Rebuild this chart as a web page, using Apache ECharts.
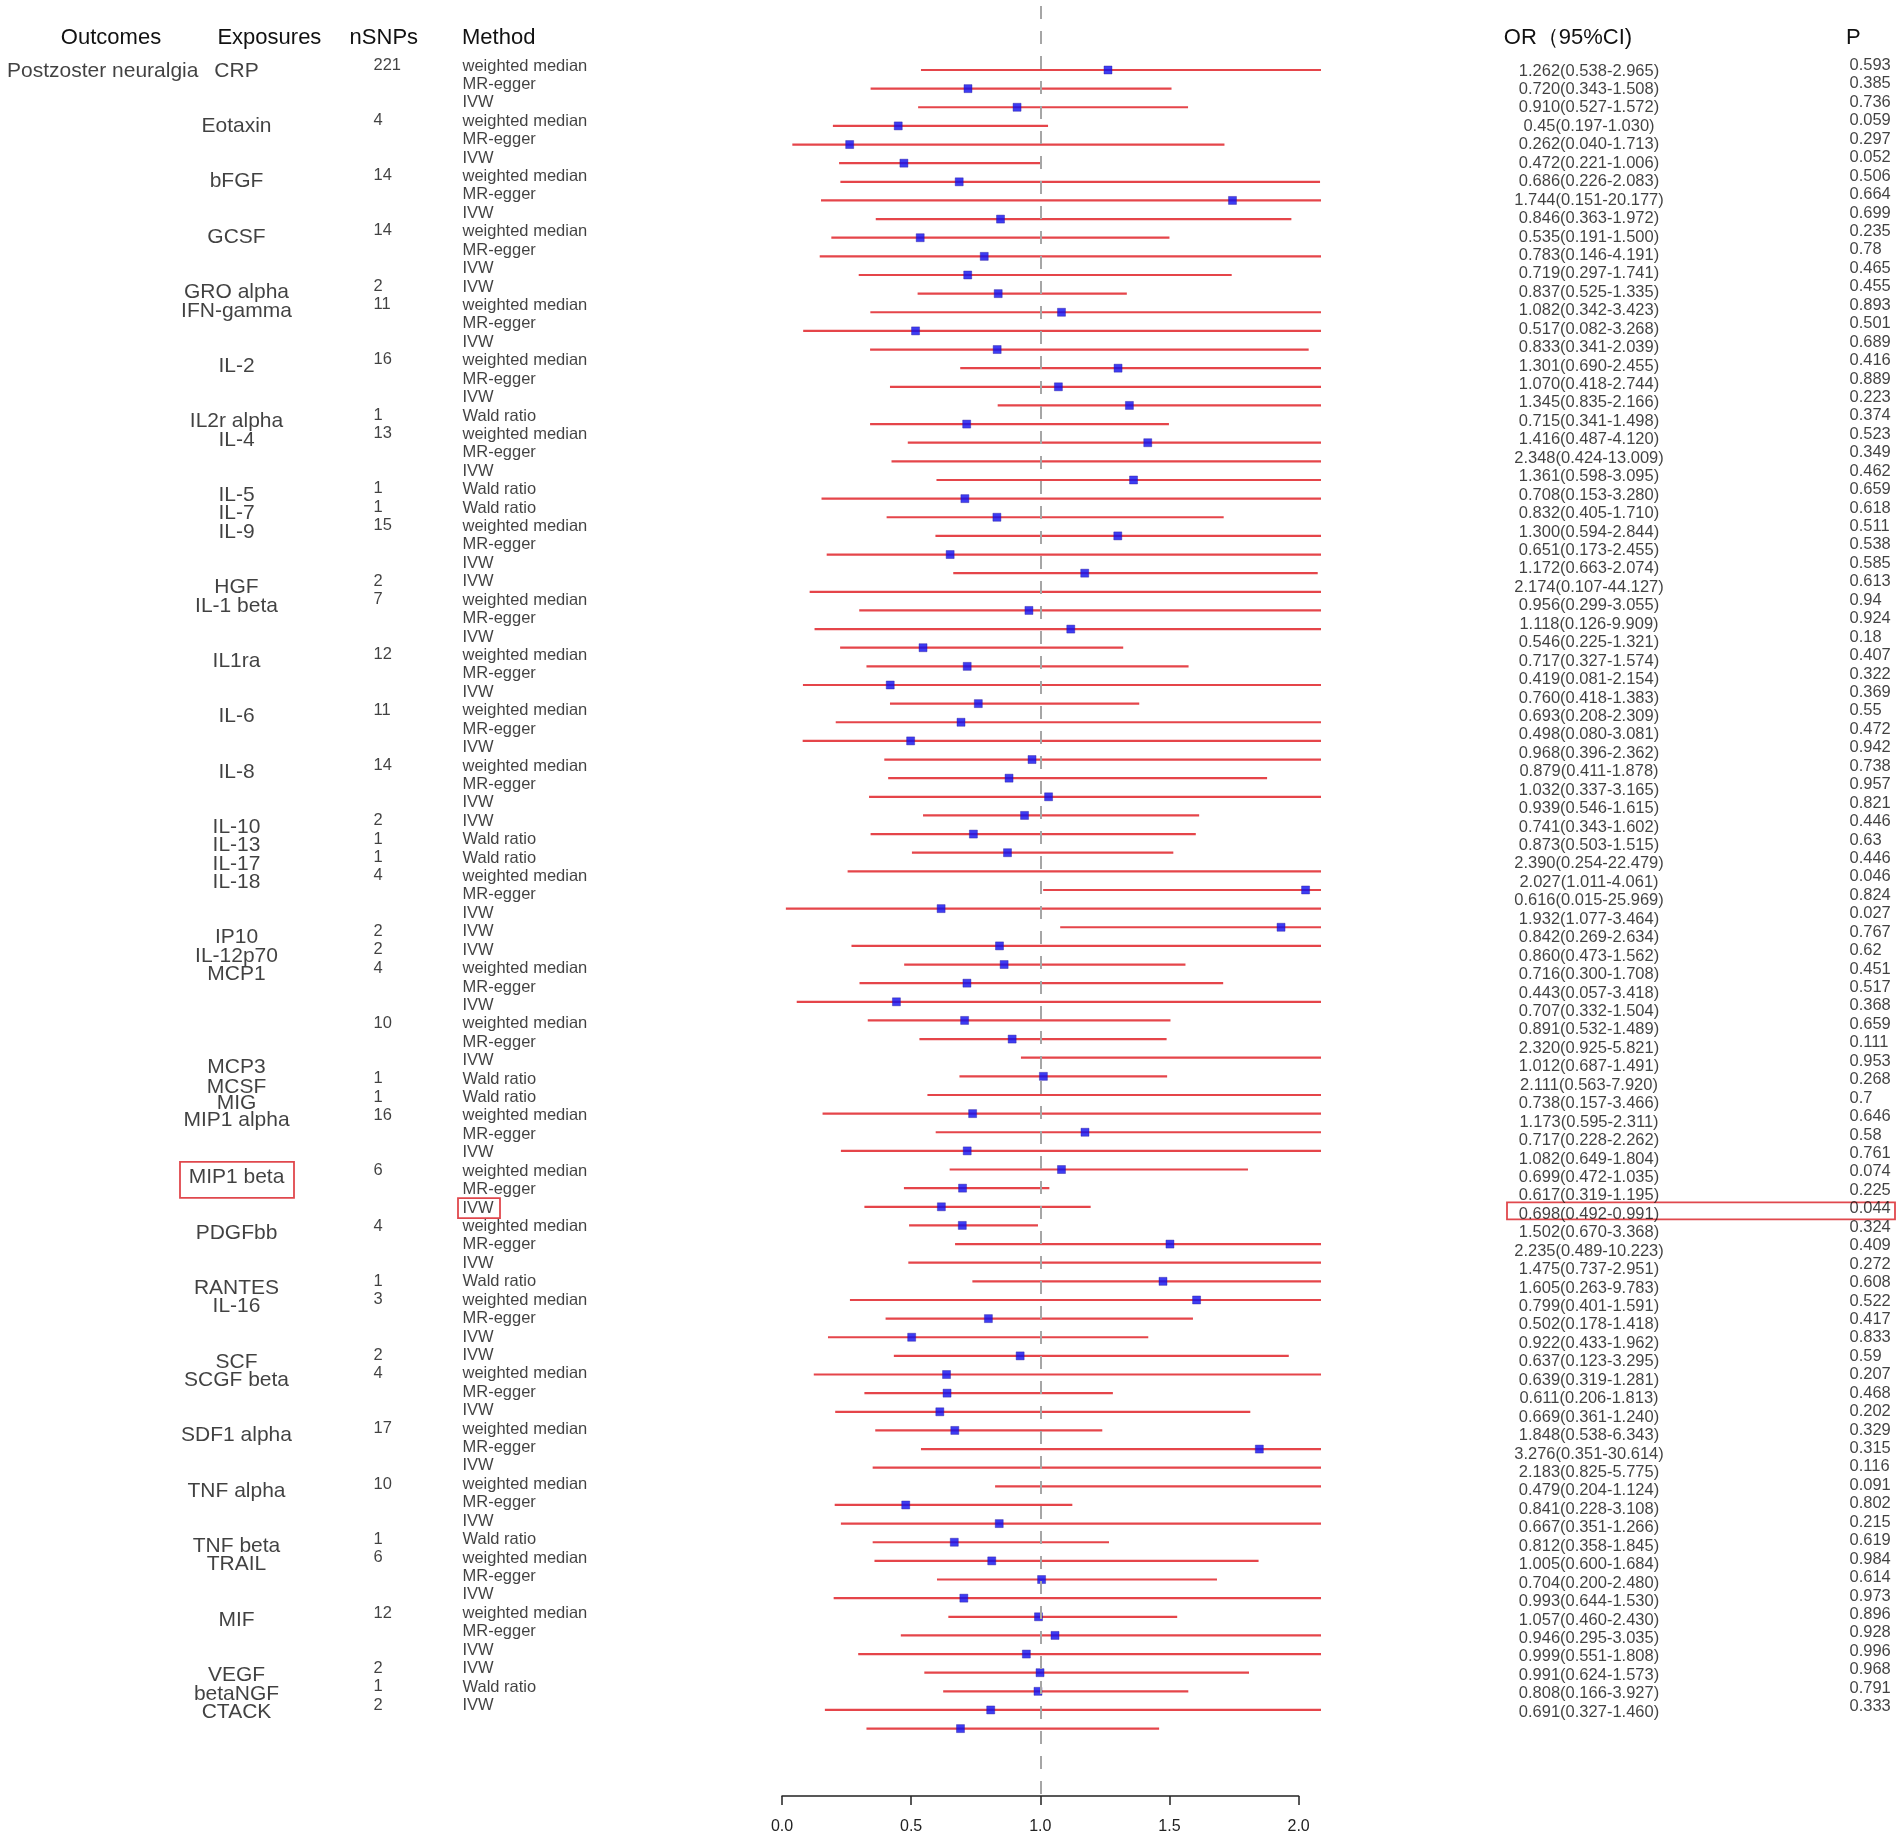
<!DOCTYPE html>
<html>
<head>
<meta charset="utf-8">
<title>MR forest plot - Postzoster neuralgia</title>
<script src="https://cdn.jsdelivr.net/npm/echarts/dist/echarts.min.js"></script>
<style>
  html, body { margin: 0; padding: 0; background: #fff; }
  #forest { width: 1902px; height: 1839px; }
</style>
</head>
<body>
<div id="forest"></div>
<script>
// ---- data ----
var outcomes = ['Postzoster neuralgia'];

var exposures = ['CRP', 'Eotaxin', 'bFGF', 'GCSF', 'GRO alpha', 'IFN-gamma', 'IL-2', 'IL2r alpha', 'IL-4', 'IL-5',
    'IL-7', 'IL-9', 'HGF', 'IL-1 beta', 'IL1ra', 'IL-6', 'IL-8', 'IL-10', 'IL-13', 'IL-17',
    'IL-18', 'IP10', 'IL-12p70', 'MCP1', 'MCP3', 'MCSF', 'MIG', 'MIP1 alpha', 'MIP1 beta', 'PDGFbb',
    'RANTES', 'IL-16', 'SCF', 'SCGF beta', 'SDF1 alpha', 'TNF alpha', 'TNF beta', 'TRAIL', 'MIF', 'VEGF',
    'betaNGF', 'CTACK'];
// row where each exposure label sits (as printed)
var exposureRow = [1, 4, 7, 10, 13, 14, 17, 20, 21, 24,
    25, 26, 29, 30, 33, 36, 39, 42, 43, 44,
    45, 48, 49, 50, 55, 56.1, 57, 57.9, 61, 64,
    67, 68, 71, 72, 75, 78, 81, 82, 85, 88,
    89, 90];
var groupSize = [3, 3, 3, 3, 1, 3, 3, 1, 3, 1,
    1, 3, 1, 3, 3, 3, 3, 1, 1, 1,
    3, 1, 1, 3, 3, 1, 1, 3, 3, 3,
    1, 3, 1, 3, 3, 3, 1, 3, 3, 1,
    1, 1];
var nSNPs = [221, 4, 14, 14, 2, 11, 16, 1, 13, 1,
    1, 15, 2, 7, 12, 11, 14, 2, 1, 1,
    4, 2, 2, 4, 10, 1, 1, 16, 6, 4,
    1, 3, 2, 4, 17, 10, 1, 6, 12, 2,
    1, 2];

var WM = 'weighted median', EG = 'MR-egger', IV = 'IVW', WR = 'Wald ratio';
var methods = [
    WM, EG, IV,  WM, EG, IV,  WM, EG, IV,  WM, EG, IV,  IV,
    WM, EG, IV,  WM, EG, IV,  WR,  WM, EG, IV,  WR,  WR,
    WM, EG, IV,  IV,  WM, EG, IV,  WM, EG, IV,  WM, EG, IV,
    WM, EG, IV,  IV,  WR,  WR,  WM, EG, IV,  IV,  IV,
    WM, EG, IV,  WM, EG, IV,  WR,  WR,  WM, EG, IV,
    WM, EG, IV,  WM, EG, IV,  WR,  WM, EG, IV,  IV,
    WM, EG, IV,  WM, EG, IV,  WM, EG, IV,  WR,
    WM, EG, IV,  WM, EG, IV,  IV,  WR,  IV
];

var orEst = ['1.262', '0.720', '0.910', '0.45', '0.262', '0.472', '0.686', '1.744', '0.846', '0.535',
    '0.783', '0.719', '0.837', '1.082', '0.517', '0.833', '1.301', '1.070', '1.345', '0.715',
    '1.416', '2.348', '1.361', '0.708', '0.832', '1.300', '0.651', '1.172', '2.174', '0.956',
    '1.118', '0.546', '0.717', '0.419', '0.760', '0.693', '0.498', '0.968', '0.879', '1.032',
    '0.939', '0.741', '0.873', '2.390', '2.027', '0.616', '1.932', '0.842', '0.860', '0.716',
    '0.443', '0.707', '0.891', '2.320', '1.012', '2.111', '0.738', '1.173', '0.717', '1.082',
    '0.699', '0.617', '0.698', '1.502', '2.235', '1.475', '1.605', '0.799', '0.502', '0.922',
    '0.637', '0.639', '0.611', '0.669', '1.848', '3.276', '2.183', '0.479', '0.841', '0.667',
    '0.812', '1.005', '0.704', '0.993', '1.057', '0.946', '0.999', '0.991', '0.808', '0.691'];
var ciLow = ['0.538', '0.343', '0.527', '0.197', '0.040', '0.221', '0.226', '0.151', '0.363', '0.191',
    '0.146', '0.297', '0.525', '0.342', '0.082', '0.341', '0.690', '0.418', '0.835', '0.341',
    '0.487', '0.424', '0.598', '0.153', '0.405', '0.594', '0.173', '0.663', '0.107', '0.299',
    '0.126', '0.225', '0.327', '0.081', '0.418', '0.208', '0.080', '0.396', '0.411', '0.337',
    '0.546', '0.343', '0.503', '0.254', '1.011', '0.015', '1.077', '0.269', '0.473', '0.300',
    '0.057', '0.332', '0.532', '0.925', '0.687', '0.563', '0.157', '0.595', '0.228', '0.649',
    '0.472', '0.319', '0.492', '0.670', '0.489', '0.737', '0.263', '0.401', '0.178', '0.433',
    '0.123', '0.319', '0.206', '0.361', '0.538', '0.351', '0.825', '0.204', '0.228', '0.351',
    '0.358', '0.600', '0.200', '0.644', '0.460', '0.295', '0.551', '0.624', '0.166', '0.327'];
var ciHigh = ['2.965', '1.508', '1.572', '1.030', '1.713', '1.006', '2.083', '20.177', '1.972', '1.500',
    '4.191', '1.741', '1.335', '3.423', '3.268', '2.039', '2.455', '2.744', '2.166', '1.498',
    '4.120', '13.009', '3.095', '3.280', '1.710', '2.844', '2.455', '2.074', '44.127', '3.055',
    '9.909', '1.321', '1.574', '2.154', '1.383', '2.309', '3.081', '2.362', '1.878', '3.165',
    '1.615', '1.602', '1.515', '22.479', '4.061', '25.969', '3.464', '2.634', '1.562', '1.708',
    '3.418', '1.504', '1.489', '5.821', '1.491', '7.920', '3.466', '2.311', '2.262', '1.804',
    '1.035', '1.195', '0.991', '3.368', '10.223', '2.951', '9.783', '1.591', '1.418', '1.962',
    '3.295', '1.281', '1.813', '1.240', '6.343', '30.614', '5.775', '1.124', '3.108', '1.266',
    '1.845', '1.684', '2.480', '1.530', '2.430', '3.035', '1.808', '1.573', '3.927', '1.460'];
var pValue = ['0.593', '0.385', '0.736', '0.059', '0.297', '0.052', '0.506', '0.664', '0.699', '0.235',
    '0.78', '0.465', '0.455', '0.893', '0.501', '0.689', '0.416', '0.889', '0.223', '0.374',
    '0.523', '0.349', '0.462', '0.659', '0.618', '0.511', '0.538', '0.585', '0.613', '0.94',
    '0.924', '0.18', '0.407', '0.322', '0.369', '0.55', '0.472', '0.942', '0.738', '0.957',
    '0.821', '0.446', '0.63', '0.446', '0.046', '0.824', '0.027', '0.767', '0.62', '0.451',
    '0.517', '0.368', '0.659', '0.111', '0.953', '0.268', '0.7', '0.646', '0.58', '0.761',
    '0.074', '0.225', '0.044', '0.324', '0.409', '0.272', '0.608', '0.522', '0.417', '0.833',
    '0.59', '0.207', '0.468', '0.202', '0.329', '0.315', '0.116', '0.091', '0.802', '0.215',
    '0.619', '0.984', '0.614', '0.973', '0.896', '0.928', '0.996', '0.968', '0.791', '0.333'];

var headers = ['Outcomes', 'Exposures', 'nSNPs', 'Method', 'OR（95%CI)', 'P'];

// ---- layout ----
var FONT = '"Liberation Sans", Arial, sans-serif';
var INK = '#111';
var FULL_H = 1839;
var unit = 258.3;          // px per 1.0 OR
var fLeft = 782, fTop = 6, fHeight = 1790;
var xClip = 2.084;         // right edge where CI lines are cut

var chart = echarts.init(document.getElementById('forest'));
var grids = [], xAxes = [], yAxes = [], series = [];

// y range so that row 1 lands at p1 px and rows are `step` px apart
function rowRange(p1, step, top, height) {
    var a = 1 - (p1 - top) / step;
    return { min: a, max: a + height / step };
}

function addGrid(g, x, y) {
    var i = grids.length;
    g.outerBoundsMode = 'none';
    grids.push(g);
    x.gridIndex = i;
    y.gridIndex = i;
    xAxes.push(x);
    yAxes.push(y);
    return i;
}

// forest plot area
var fr = rowRange(70, 18.636, fTop, fHeight);
var gForest = addGrid(
    { left: fLeft, top: fTop, width: xClip * unit, height: fHeight },
    { type: 'value', min: 0, max: xClip, show: false },
    { type: 'value', inverse: true, min: fr.min, max: fr.max, show: false }
);

// visible OR axis, 0 - 2
addGrid(
    { left: fLeft, top: 1795, width: 2 * unit, height: 1 },
    {
        type: 'value', min: 0, max: 2, interval: 0.5, position: 'bottom',
        axisLine: { onZero: false, lineStyle: { color: '#222', width: 1.5 } },
        axisTick: { length: 9, lineStyle: { color: '#222', width: 1.5 } },
        axisLabel: { margin: 23, fontSize: 16, color: '#222', fontFamily: FONT,
            formatter: function (v) { return v.toFixed(1); } },
        splitLine: { show: false }
    },
    { type: 'value', show: false }
);

// one text column = one thin grid with its own row scale
function textColumn(left, p1, step, items, align, fontSize) {
    var r = rowRange(p1, step, 0, FULL_H);
    var gi = addGrid(
        { left: left, top: 0, width: 10, height: FULL_H },
        { type: 'value', min: 0, max: 1, show: false },
        { type: 'value', inverse: true, min: r.min, max: r.max, show: false }
    );
    series.push({
        type: 'scatter',
        xAxisIndex: gi, yAxisIndex: gi,
        symbolSize: 1,
        silent: true,
        itemStyle: { color: 'transparent' },
        label: {
            show: true,
            position: align === 'center' ? 'inside' : 'right',
            distance: 0,
            formatter: '{b}',
            color: INK,
            fontSize: fontSize,
            fontFamily: FONT
        },
        data: items.map(function (it) { return { name: it.text, value: [0, it.row] }; })
    });
    return gi;
}

var rows = methods.map(function (m, i) { return i + 1; });

var snpItems = [];
var start = 1;
groupSize.forEach(function (n, g) {
    snpItems.push({ row: start, text: String(nSNPs[g]) });
    start += n;
});

textColumn(102.7, 71, 18.44, outcomes.map(function (o) { return { row: 1, text: o }; }), 'center', 21);
var gExpo = textColumn(236.5, 71, 18.44,
    exposures.map(function (e, i) { return { row: exposureRow[i], text: e }; }), 'center', 21);
textColumn(373, 65, 18.43, snpItems, 'left', 16.5);
var gMethod = textColumn(462, 66, 18.42,
    methods.map(function (m, i) { return { row: rows[i], text: m }; }), 'left', 16.5);
var gOR = textColumn(1589, 71, 18.44,
    orEst.map(function (v, i) { return { row: rows[i], text: v + '(' + ciLow[i] + '-' + ciHigh[i] + ')' }; }),
    'center', 16.5);
textColumn(1849, 65.5, 18.44,
    pValue.map(function (p, i) { return { row: rows[i], text: p }; }), 'left', 16.5);

// confidence intervals
series.push({
    type: 'custom',
    xAxisIndex: gForest, yAxisIndex: gForest,
    clip: true,
    silent: true,
    z: 2,
    encode: { x: [1, 2], y: 0 },
    data: rows.map(function (r, i) { return [r, Number(ciLow[i]), Number(ciHigh[i])]; }),
    renderItem: function (params, api) {
        var a = api.coord([api.value(1), api.value(0)]);
        var b = api.coord([api.value(2), api.value(0)]);
        return {
            type: 'line',
            shape: { x1: a[0], y1: a[1], x2: b[0], y2: b[1] },
            style: { stroke: '#e5454a', lineWidth: 2.2 }
        };
    },
    markLine: {
        silent: true,
        symbol: ['none', 'none'],
        label: { show: false },
        lineStyle: { color: '#a6a6a6', type: [13, 12], width: 2 },
        data: [{ xAxis: 1 }]
    }
});

// point estimates
series.push({
    type: 'scatter',
    xAxisIndex: gForest, yAxisIndex: gForest,
    clip: true,
    silent: true,
    z: 4,
    symbol: 'rect',
    symbolSize: [8, 8],
    itemStyle: { color: '#0c0cf0', borderColor: '#2a1a9a', borderWidth: 0.5 },
    data: rows.map(function (r, i) { return [Number(orEst[i]), r]; })
});

chart.setOption({
    backgroundColor: '#fff',
    animation: false,
    grid: grids,
    xAxis: xAxes,
    yAxis: yAxes,
    series: series
});

// headers and the highlight boxes
var headerPos = [
    { x: 111, align: 'center' }, { x: 269.4, align: 'center' }, { x: 349.6, align: 'left' },
    { x: 462, align: 'left' }, { x: 1568, align: 'center' }, { x: 1846, align: 'left' }
];
var graphics = headers.map(function (h, i) {
    return {
        type: 'text', silent: true,
        style: {
            text: h, x: headerPos[i].x, y: 38,
            fill: INK, font: '22px ' + FONT,
            align: headerPos[i].align, verticalAlign: 'middle',
            textAlign: headerPos[i].align, textVerticalAlign: 'middle'
        }
    };
});

function boxAt(gi, row, x0, x1, dy, h) {
    var y = chart.convertToPixel({ gridIndex: gi }, [0, row])[1] + dy;
    return {
        type: 'rect', silent: true,
        shape: { x: x0, y: y - h / 2, width: x1 - x0, height: h },
        style: { fill: 'none', stroke: '#e0484d', lineWidth: 1.8 }
    };
}
graphics.push(boxAt(gExpo, 61, 180, 294, 2.5, 36));
graphics.push(boxAt(gMethod, 63, 458, 500, 0, 20));
graphics.push(boxAt(gOR, 63, 1507, 1895, -3.5, 17));

chart.setOption({ graphic: graphics });
</script>
</body>
</html>
